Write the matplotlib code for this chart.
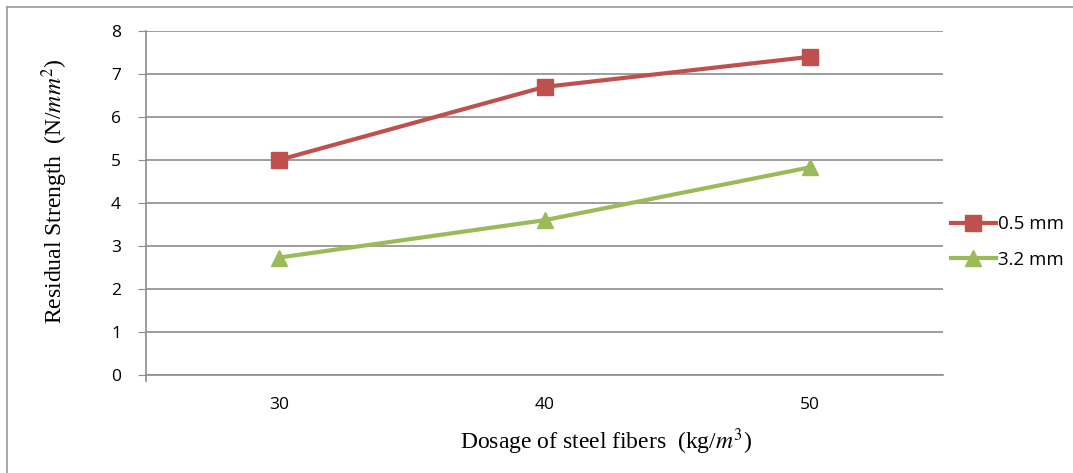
import matplotlib.pyplot as plt
from matplotlib.lines import Line2D

# dados
dosagem = ["30", "40", "50"]
serie_05 = [5.0, 6.7, 7.4]
serie_32 = [2.73, 3.6, 4.83]
rotulos = ["0.5 mm", "3.2 mm"]

vermelho = "#C0504D"
verde = "#9BBB59"
cinza = "#8C8C8C"

plt.rcParams['mathtext.fontset'] = 'stix'

fig = plt.figure(figsize=(10.73, 4.73), dpi=100)
ax = fig.add_axes([146 / 1073, 1 - 375 / 473, (943 - 146) / 1073, (375 - 31) / 473])

x = range(len(dosagem))
ax.plot(x, serie_05, color=vermelho, linewidth=3, marker="s", markersize=11,
        label=rotulos[0])
ax.plot(x, serie_32, color=verde, linewidth=3, marker="^", markersize=12,
        label=rotulos[1])

# eixos
ax.set_xlim(-0.5, 2.5)
ax.set_ylim(0, 8)
ax.set_yticks(range(0, 9))
ax.set_xticks(list(x))
ax.set_xticklabels(dosagem)
ax.grid(axis="y", color=cinza, linewidth=1.2)
ax.set_axisbelow(True)
for lado in ["top", "right"]:
    ax.spines[lado].set_visible(False)
ax.spines["left"].set_color(cinza)
ax.spines["bottom"].set_color(cinza)
ax.spines["left"].set_linewidth(1.2)
ax.spines["bottom"].set_linewidth(1.2)
ax.spines["left"].set_bounds(-0.15, 8)
ax.tick_params(axis="y", length=6, color=cinza, labelsize=12.5, pad=12)
ax.tick_params(axis="x", length=0, labelsize=12.5, pad=16)
for t in ax.get_xticklabels() + ax.get_yticklabels():
    t.set_fontfamily("Open Sans")

# legendas
ax.set_xlabel(r"Dosage of steel fibers  (kg/$m^3$)", fontfamily="Liberation Serif",
              fontsize=17, labelpad=10)
ax.xaxis.set_label_coords(0.577, -0.15)
ax.set_ylabel(r"Residual Strength  (N/$mm^2$)", fontfamily="Liberation Serif",
              fontsize=17, labelpad=22)
ax.yaxis.set_label_coords(-0.095, 0.535)

alcas = [Line2D([], [], color=vermelho, linewidth=3, marker="s", markersize=11),
         Line2D([], [], color=verde, linewidth=3, marker="^", markersize=12)]
leg = fig.legend(alcas, rotulos, loc="center left", bbox_to_anchor=(934 / 1073, 1 - 242 / 473),
                 frameon=False, handlelength=2.4, handletextpad=0.1, labelspacing=0.95,
                 prop={"family": "Open Sans", "size": 13.5})

# moldura
fig.add_artist(Line2D([7 / 1073, 7 / 1073], [0, 1 - 7 / 473], transform=fig.transFigure,
                      color="#9A9A9A", linewidth=1.2))
fig.add_artist(Line2D([7 / 1073, 1], [1 - 7 / 473, 1 - 7 / 473], transform=fig.transFigure,
                      color="#9A9A9A", linewidth=1.2))

fig.savefig("out.png", dpi=100)
